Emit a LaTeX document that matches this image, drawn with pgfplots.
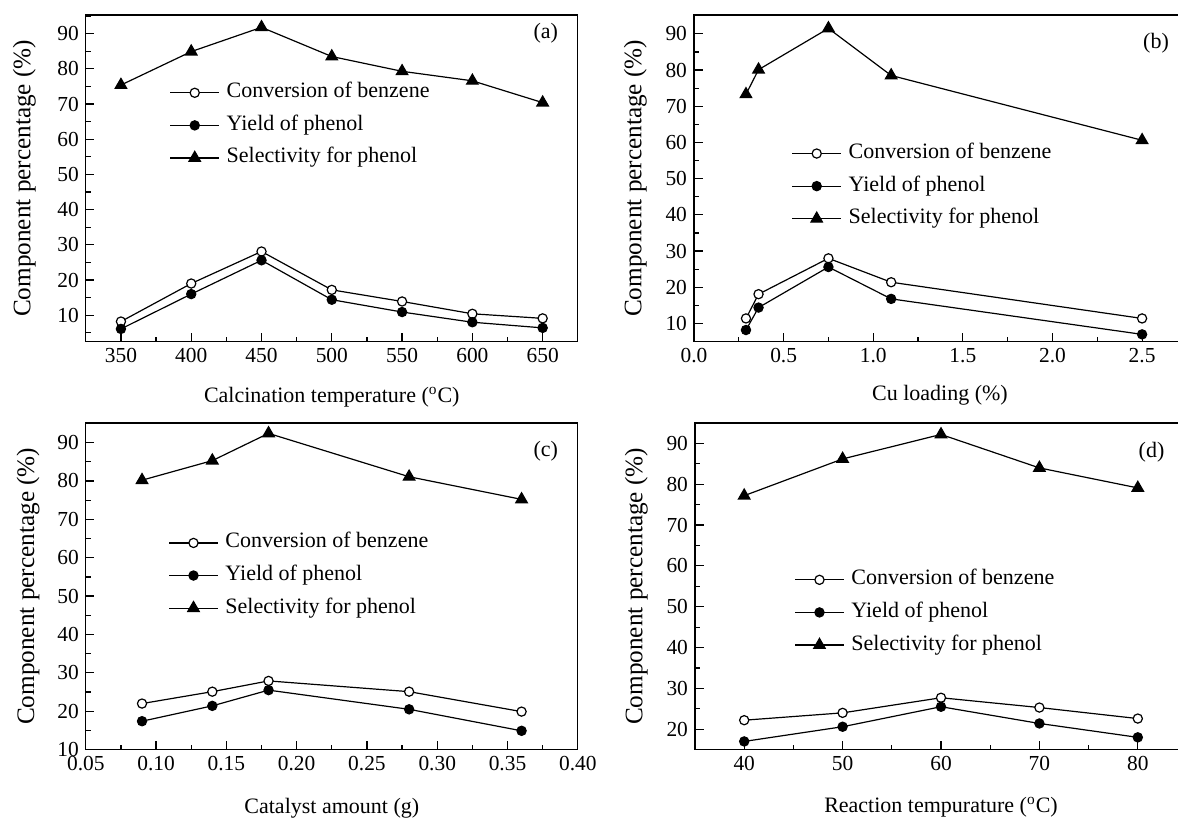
\documentclass[border=0pt]{standalone}
\usepackage{fontspec}
\setmainfont{Liberation Serif}
\usepackage{pgfplots}
\pgfplotsset{compat=1.18}

\pgfplotsset{
  panel/.style={
    scale only axis, width=246pt, height=163.3pt, anchor=north west,
    axis line style={line width=0.6pt},
    tick align=inside, xtick pos=bottom, ytick pos=left,
    major tick length=4.3pt, minor tick length=2.5pt,
    every tick/.style={black, line width=0.6pt},
    minor x tick num=1, minor y tick num=1,
    tick label style={font=\fontsize{10.7}{12}\selectfont},
    /pgf/number format/assume math mode=true,
    xlabel style={font=\fontsize{11}{13}\selectfont, anchor=center},
    ylabel style={font=\fontsize{12.6}{14}\selectfont, anchor=center},
    ylabel={Component percentage (\%)},
    legend style={draw=none, fill=none, font=\fontsize{11}{13}\selectfont,
      anchor=west, inner sep=0pt, row sep=4.3pt, column sep=2.5pt,
      nodes={inner sep=1pt, text height=7.5pt, text depth=2.5pt}},
    legend cell align=left,
    legend image code/.code={\draw[mark repeat=2, mark phase=2] plot coordinates {(0cm,0cm) (0.427cm,0cm) (0.855cm,0cm)};},
  },
  conv/.style={black, line width=0.6pt, mark=*, mark size=2.3pt, mark options={fill=white, line width=0.6pt}},
  yld/.style={black, line width=0.6pt, mark=*, mark size=2.3pt, mark options={fill=black}},
  sel/.style={black, line width=0.6pt, mark=triangle*, mark size=3.3pt, mark options={fill=black}},
}
\tikzset{tag/.style={font=\fontsize{11}{13}\selectfont, anchor=center}}

\begin{document}
\begin{tikzpicture}
% (a)
\begin{axis}[panel, at={(42.9pt,-7.5pt)},
  xmin=325, xmax=675, ymin=2.5, ymax=95.3,
  xtick={300,350,...,700}, ytick={0,10,...,100},
  xlabel={Calcination temperature (\textsuperscript{o}C)},
  xlabel style={at={(axis description cs:0.5,-0.169)}},
  ylabel style={at={(axis description cs:-0.125,0.5)}},
  legend style={at={(axis description cs:0.170,0.662)}}]
\addplot[conv] coordinates {(350,8.2) (400,19.0) (450,28.1) (500,17.2) (550,13.9) (600,10.4) (650,9.1)};
\addplot[yld] coordinates {(350,6.1) (400,16.0) (450,25.6) (500,14.4) (550,10.9) (600,8.0) (650,6.4)};
\addplot[sel] coordinates {(350,75.4) (400,84.9) (450,91.8) (500,83.5) (550,79.3) (600,76.6) (650,70.4)};
\legend{Conversion of benzene, Yield of phenol, Selectivity for phenol}
\node[tag] at (axis description cs:0.935,0.943) {(a)};
\end{axis}
% (b)
\begin{axis}[panel, at={(347pt,-7.5pt)},
  xmin=0, xmax=2.745, ymin=5, ymax=95.2,
  xtick={0,0.5,...,3}, ytick={0,10,...,100},
  xticklabel style={/pgf/number format/.cd, fixed, fixed zerofill, precision=1},
  xlabel={Cu loading (\%)},
  xlabel style={at={(axis description cs:0.5,-0.164)}},
  ylabel style={at={(axis description cs:-0.119,0.5)}},
  legend style={at={(axis description cs:0.198,0.476)}}]
\addplot[conv] coordinates {(0.29,11.4) (0.36,18.1) (0.75,28.0) (1.1,21.4) (2.5,11.4)};
\addplot[yld] coordinates {(0.29,8.2) (0.36,14.4) (0.75,25.6) (1.1,16.8) (2.5,7.0)};
\addplot[sel] coordinates {(0.29,73.3) (0.36,80.1) (0.75,91.5) (1.1,78.5) (2.5,60.6)};
\legend{Conversion of benzene, Yield of phenol, Selectivity for phenol}
\node[tag] at (axis description cs:0.939,0.913) {(b)};
\end{axis}
% (c)
\begin{axis}[panel, at={(42.9pt,-211.5pt)},
  xmin=0.05, xmax=0.40, ymin=10, ymax=95.1,
  xtick={0.05,0.10,0.15,0.20,0.25,0.30,0.35,0.40}, ytick={0,10,...,100},
  xticklabel style={/pgf/number format/.cd, fixed, fixed zerofill, precision=2},
  xlabel={Catalyst amount (g)},
  xlabel style={at={(axis description cs:0.5,-0.181)}},
  ylabel style={at={(axis description cs:-0.1175,0.5)}},
  legend style={at={(axis description cs:0.1675,0.533)}}]
\addplot[conv] coordinates {(0.09,22.0) (0.14,25.1) (0.18,27.9) (0.28,25.1) (0.36,19.9)};
\addplot[yld] coordinates {(0.09,17.4) (0.14,21.4) (0.18,25.5) (0.28,20.5) (0.36,14.9)};
\addplot[sel] coordinates {(0.09,80.2) (0.14,85.3) (0.18,92.4) (0.28,81.1) (0.36,75.2)};
\legend{Conversion of benzene, Yield of phenol, Selectivity for phenol}
\node[tag] at (axis description cs:0.935,0.913) {(c)};
\end{axis}
% (d)
\begin{axis}[panel, at={(347.5pt,-211.5pt)},
  xmin=35, xmax=85, ymin=15, ymax=95,
  xtick={30,40,...,90}, ytick={10,20,...,100},
  xlabel={Reaction tempurature (\textsuperscript{o}C)},
  xlabel style={at={(axis description cs:0.5,-0.176)}},
  ylabel style={at={(axis description cs:-0.119,0.5)}},
  legend style={at={(axis description cs:0.2016,0.420)}}]
\addplot[conv] coordinates {(40,22.2) (50,24.0) (60,27.7) (70,25.3) (80,22.6)};
\addplot[yld] coordinates {(40,17.0) (50,20.6) (60,25.5) (70,21.4) (80,18.0)};
\addplot[sel] coordinates {(40,77.2) (50,86.2) (60,92.2) (70,84.0) (80,79.1)};
\legend{Conversion of benzene, Yield of phenol, Selectivity for phenol}
\node[tag] at (axis description cs:0.928,0.91) {(d)};
\end{axis}
\pgfresetboundingbox
\path[use as bounding box] (0pt,0pt) rectangle (589pt,-409.5pt);
\end{tikzpicture}
\end{document}
